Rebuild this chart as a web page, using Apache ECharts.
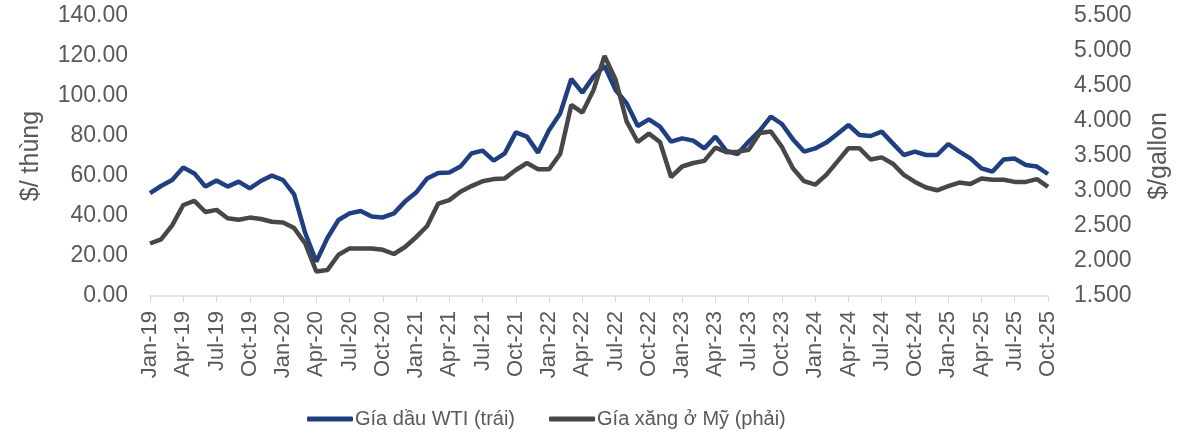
<!DOCTYPE html>
<html>
<head>
<meta charset="utf-8">
<script src="https://cdn.jsdelivr.net/npm/echarts@6/dist/echarts.min.js"></script>
<style>
  html, body { margin: 0; padding: 0; background: #fff; }
  #chart { width: 1189px; height: 438px; }
</style>
</head>
<body>
<div id="chart"></div>
<script>
// tháng Jan-19 .. Oct-25
const months = ['Jan','Feb','Mar','Apr','May','Jun','Jul','Aug','Sep','Oct','Nov','Dec'];
const categories = [];
for (let y = 19; y <= 25; y++) {
  for (let m = 0; m < 12; m++) {
    if (y === 25 && m > 9) break;
    categories.push(months[m] + '-' + y);
  }
}

// giá dầu WTI ($/thùng) - trục trái
const wti = [
  51.4, 55.0, 58.0, 64.2, 61.3, 54.7, 57.7, 54.7, 57.2, 53.8, 57.5, 60.2,
  58.0, 50.8, 31.5, 17.2, 29.0, 38.0, 41.3, 42.5, 39.7, 39.3, 41.3, 47.2,
  51.7, 58.8, 61.5, 61.8, 64.7, 71.3, 72.7, 67.7, 71.3, 81.8, 79.7, 71.7,
  83.0, 91.3, 108.5, 101.7, 109.7, 115.0, 103.0, 96.3, 85.0, 88.3, 84.7, 77.2,
  78.8, 77.7, 73.8, 79.7, 72.5, 71.0, 77.2, 82.7, 89.7, 86.0, 78.3, 72.2,
  73.8, 76.7, 81.0, 85.5, 80.5, 80.0, 82.2, 76.3, 70.5, 72.2, 70.5, 70.5,
  76.0, 72.2, 68.8, 63.8, 62.2, 68.3, 68.7, 65.5, 64.7, 61.0
];

// giá xăng ở Mỹ ($/gallon) - trục phải
const gasoline = [
  2.25, 2.31, 2.51, 2.80, 2.86, 2.70, 2.73, 2.61, 2.59, 2.62, 2.60, 2.56,
  2.55, 2.47, 2.25, 1.85, 1.87, 2.09, 2.18, 2.18, 2.18, 2.16, 2.10, 2.20,
  2.34, 2.50, 2.82, 2.87, 2.99, 3.07, 3.14, 3.17, 3.18, 3.30, 3.40, 3.31,
  3.31, 3.53, 4.23, 4.12, 4.44, 4.93, 4.59, 3.99, 3.70, 3.82, 3.70, 3.20,
  3.35, 3.40, 3.43, 3.62, 3.555, 3.56, 3.59, 3.83, 3.85, 3.63, 3.32, 3.14,
  3.09, 3.23, 3.42, 3.61, 3.61, 3.45, 3.48, 3.39, 3.23, 3.13, 3.05, 3.01,
  3.07, 3.12, 3.10, 3.18, 3.16, 3.16, 3.13, 3.13, 3.17, 3.06
];

const textColor = '#595959';
const fontFamily = '"Liberation Sans", Arial, sans-serif';

const myChart = echarts.init(document.getElementById('chart'));
myChart.setOption({
  animation: false,
  textStyle: { fontFamily: fontFamily },
  grid: { left: 150, right: 141, top: 16, bottom: 142 },
  legend: {
    bottom: 4,
    left: 302,
    itemGap: 34,
    itemWidth: 46,
    itemHeight: 5,
    icon: 'roundRect',
    textStyle: { color: textColor, fontSize: 20, fontFamily: fontFamily, padding: [0, 0, 0, -3] },
    data: ['Gía dầu WTI (trái)', 'Gía xăng ở Mỹ (phải)']
  },
  xAxis: {
    type: 'category',
    data: categories,
    boundaryGap: false,
    axisLine: { lineStyle: { color: '#d9d9d9', width: 1.5 } },
    axisTick: { show: true, interval: 2, length: 6, lineStyle: { color: '#d9d9d9' } },
    axisLabel: {
      interval: 2,
      rotate: 90,
      color: textColor,
      fontSize: 22,
      margin: 15,
      fontFamily: fontFamily
    },
    splitLine: { show: false }
  },
  yAxis: [
    {
      type: 'value',
      min: 0,
      max: 140,
      interval: 20,
      name: '$/ thùng',
      nameLocation: 'middle',
      nameGap: 106,
      nameTextStyle: { color: textColor, fontSize: 25, fontFamily: fontFamily },
      axisLine: { show: false },
      axisTick: { show: false },
      splitLine: { show: false },
      axisLabel: {
        color: textColor,
        fontSize: 23,
        margin: 22,
        fontFamily: fontFamily,
        formatter: v => v.toFixed(2)
      }
    },
    {
      type: 'value',
      min: 1.5,
      max: 5.5,
      interval: 0.5,
      name: '$/gallon',
      nameLocation: 'middle',
      nameGap: 99,
      nameTextStyle: { color: textColor, fontSize: 25, fontFamily: fontFamily },
      axisLine: { show: false },
      axisTick: { show: false },
      splitLine: { show: false },
      axisLabel: {
        color: textColor,
        fontSize: 23,
        margin: 26,
        fontFamily: fontFamily,
        formatter: v => v.toFixed(3)
      }
    }
  ],
  series: [
    {
      name: 'Gía dầu WTI (trái)',
      type: 'line',
      yAxisIndex: 0,
      data: wti,
      symbol: 'none',
      lineStyle: { color: '#1f3f80', width: 4.5 },
      itemStyle: { color: '#1f3f80' }
    },
    {
      name: 'Gía xăng ở Mỹ (phải)',
      type: 'line',
      yAxisIndex: 1,
      data: gasoline,
      symbol: 'none',
      lineStyle: { color: '#474747', width: 4.5 },
      itemStyle: { color: '#474747' }
    }
  ]
});
</script>
</body>
</html>
